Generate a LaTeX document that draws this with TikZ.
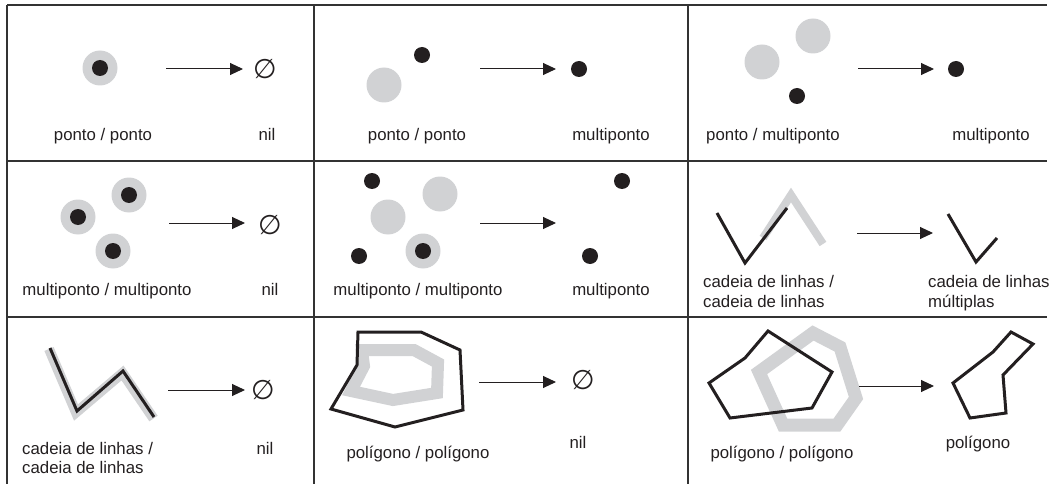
\documentclass[tikz,border=0pt]{standalone}
\usepackage{fontspec}
\setmainfont{Liberation Sans}
\newfontfamily\symfont{DejaVu Sans}
\usetikzlibrary{arrows.meta}
\definecolor{inkblack}{HTML}{231F20}
\definecolor{shadegray}{HTML}{D1D2D4}

\begin{document}
\begin{tikzpicture}[x=1pt, y=-1pt,
    grid_style/.style={line width=1.2pt, black!80},
    region_style/.style={circle, fill=shadegray, inner sep=0pt, minimum size=35pt},
    point_style/.style={circle, fill=inkblack, inner sep=0pt, minimum size=16pt},
    arrow_style/.style={-{Triangle[length=13pt,width=12pt]}, line width=1pt, inkblack},
    label_style/.style={font=\fontsize{16.8}{20}\selectfont, text=inkblack, inner sep=0pt, anchor=base},
    nil_style/.style={font=\symfont\fontsize{27}{27}\selectfont, text=inkblack, inner sep=0pt},
    chain_style/.style={line width=3pt, inkblack, line join=miter},
    band_style/.style={line width=9pt, shadegray, line join=miter}
]
    \useasboundingbox (0,0) rectangle (1052,484);

    % Table lines
    \draw[grid_style] (7,5) -- (1047,5);
    \foreach \y in {161,317} \draw[grid_style] (7,\y) -- (1047,\y);
    \foreach \x in {7,314,688} \draw[grid_style] (\x,5) -- (\x,484);

    % Row 1, cell 1: ponto / ponto -> nil
    \node (g1) at (100,68) [region_style] {};
    \node (p1) at (100,68) [point_style] {};
    \coordinate (a1s) at (166,69);
    \coordinate (a1e) at (243,69);
    \draw[arrow_style] (a1s) -- (a1e);
    \node (n1) at (265,69) [nil_style] {∅};
    \node (l1) at (103,141) [label_style] {ponto / ponto};
    \node (r1) at (267,141) [label_style] {nil};

    % Row 1, cell 2: ponto / ponto -> multiponto
    \node (g2) at (384,85) [region_style] {};
    \node (p2) at (422,55) [point_style] {};
    \coordinate (a2s) at (480,69);
    \coordinate (a2e) at (556,69);
    \draw[arrow_style] (a2s) -- (a2e);
    \node (q2) at (579,69) [point_style] {};
    \node (l2) at (417,141) [label_style] {ponto / ponto};
    \node (r2) at (611,140) [label_style] {multiponto};

    % Row 1, cell 3: ponto / multiponto -> multiponto
    \node (g3a) at (762,62) [region_style] {};
    \node (g3b) at (813,36) [region_style] {};
    \node (p3) at (797,96) [point_style] {};
    \coordinate (a3s) at (858,69);
    \coordinate (a3e) at (934,69);
    \draw[arrow_style] (a3s) -- (a3e);
    \node (q3) at (956,69) [point_style] {};
    \node (l3) at (773,141) [label_style] {ponto / multiponto};
    \node (r3) at (991,141) [label_style] {multiponto};

    % Row 2, cell 1: multiponto / multiponto -> nil
    \foreach \px/\py [count=\i] in {78/217, 129/195, 113/251} {
        \node (g4\i) at (\px,\py) [region_style] {};
        \node (p4\i) at (\px,\py) [point_style] {};
    }
    \coordinate (a4s) at (169,223);
    \coordinate (a4e) at (245,223);
    \draw[arrow_style] (a4s) -- (a4e);
    \node (n4) at (270,225) [nil_style] {∅};
    \node (l4) at (107,295) [label_style] {multiponto / multiponto};
    \node (r4) at (270,295) [label_style] {nil};

    % Row 2, cell 2: multiponto / multiponto -> multiponto
    \node (g5a) at (388,217) [region_style] {};
    \node (g5b) at (440,194) [region_style] {};
    \node (g5c) at (423,251) [region_style] {};
    \node (p5a) at (372,181) [point_style] {};
    \node (p5b) at (359,256) [point_style] {};
    \node (p5c) at (423,251) [point_style] {};
    \coordinate (a5s) at (480,223);
    \coordinate (a5e) at (556,223);
    \draw[arrow_style] (a5s) -- (a5e);
    \node (q5a) at (622,181) [point_style] {};
    \node (q5b) at (590,256) [point_style] {};
    \node (l5) at (418,295) [label_style] {multiponto / multiponto};
    \node (r5) at (611,295) [label_style] {multiponto};

    % Row 2, cell 3: cadeia de linhas / cadeia de linhas -> cadeia de linhas multiplas
    \draw[band_style, line width=8pt] (763,238) -- (791,195) -- (823,244);
    \draw[chain_style] (717,213) -- (745,263) -- (787,208);
    \coordinate (a6s) at (857,233);
    \coordinate (a6e) at (933,233);
    \draw[arrow_style] (a6s) -- (a6e);
    \draw[chain_style] (948,214) -- (976,262) -- (997,238);
    \node (l6a) at (703,287) [label_style, anchor=base west] {cadeia de linhas /};
    \node (l6b) at (703,307) [label_style, anchor=base west] {cadeia de linhas};
    \node (r6a) at (928,287) [label_style, anchor=base west] {cadeia de linhas};
    \node (r6b) at (928,307) [label_style, anchor=base west] {múltiplas};

    % Row 3, cell 1: cadeia de linhas / cadeia de linhas -> nil
    \draw[band_style, line width=10pt] (49,349) -- (76,412.5) -- (122.5,373) -- (153.5,418.5);
    \draw[chain_style] (50,348) -- (77,411) -- (123,371) -- (154,417);
    \coordinate (a7s) at (168,390);
    \coordinate (a7e) at (245,390);
    \draw[arrow_style] (a7s) -- (a7e);
    \node (n7) at (263,390) [nil_style] {∅};
    \node (l7a) at (22,454) [label_style, anchor=base west] {cadeia de linhas /};
    \node (l7b) at (22,473) [label_style, anchor=base west] {cadeia de linhas};
    \node (r7) at (265,454) [label_style] {nil};

    % Row 3, cell 2: poligono / poligono -> nil
    \draw[band_style, line width=12pt] (362,350) -- (414,350) -- (438,363) -- (437,393)
        -- (393,400) -- (351,391) -- (364,366) -- cycle;
    \draw[chain_style] (358,332) -- (421,332) -- (460,350) -- (463,410) -- (395,427)
        -- (331,409) -- (357,365) -- cycle;
    \coordinate (a8s) at (479,382);
    \coordinate (a8e) at (556,382);
    \draw[arrow_style] (a8s) -- (a8e);
    \node (n8) at (583,380) [nil_style] {∅};
    \node (l8) at (418,458) [label_style] {polígono / polígono};
    \node (r8) at (578,448) [label_style] {nil};

    % Row 3, cell 3: poligono / poligono -> poligono
    \draw[band_style, line width=13pt] (813,333) -- (840,347) -- (856,398) -- (837,425)
        -- (783,425) -- (759,372) -- cycle;
    \draw[chain_style] (768,331) -- (832,372) -- (812,408) -- (730,418) -- (709,383)
        -- (745,358) -- cycle;
    \coordinate (a9s) at (859,386);
    \coordinate (a9e) at (934,386);
    \draw[arrow_style] (a9s) -- (a9e);
    \draw[chain_style] (953,383) -- (993,352) -- (1011,332) -- (1033,344) -- (1003,375)
        -- (1006,413) -- (970,418) -- cycle;
    \node (l9) at (782,458) [label_style] {polígono / polígono};
    \node (r9) at (978,448) [label_style] {polígono};

\end{tikzpicture}
\end{document}
